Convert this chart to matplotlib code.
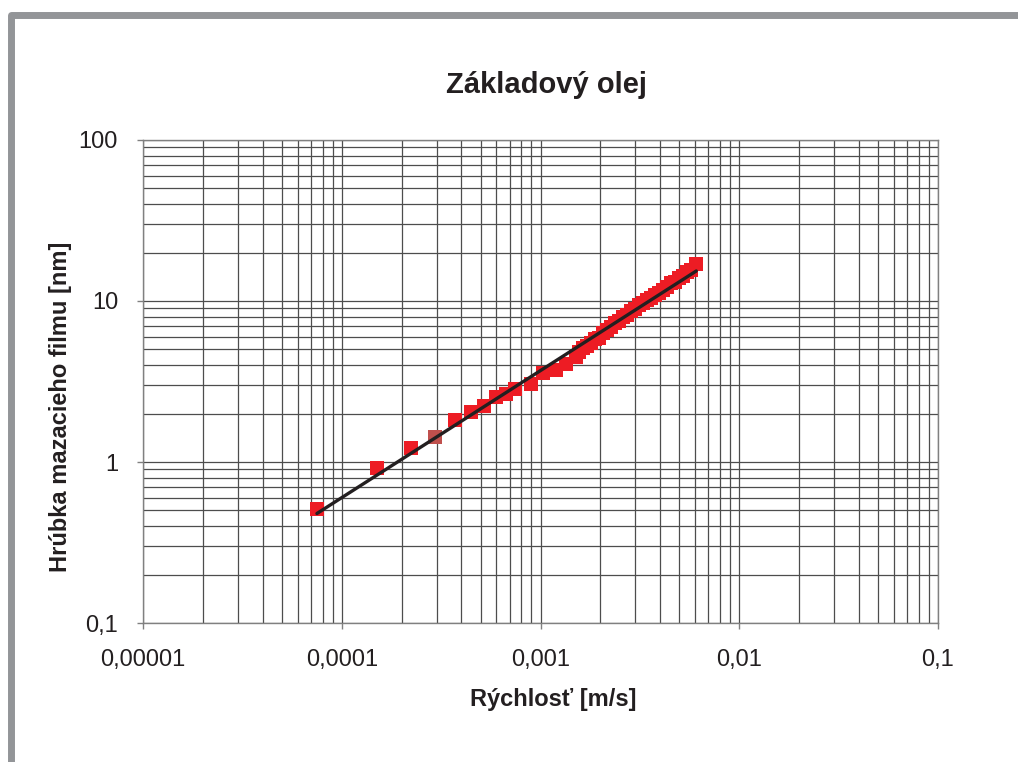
import numpy as np
import matplotlib.pyplot as plt
from matplotlib.patches import Rectangle
from matplotlib.ticker import LogLocator, FixedFormatter, FixedLocator, NullFormatter

plt.rcParams['font.family'] = ['Liberation Sans', 'DejaVu Sans']

# rychlost [m/s] a hrubka filmu [nm]
rychlost = [0.000075, 0.00015, 0.000222, 0.00037, 0.000445, 0.000517, 0.000594,
            0.000667, 0.00074, 0.000891, 0.001035, 0.00119, 0.00134, 0.0015,
            0.00157, 0.001645, 0.001722, 0.001804, 0.00189, 0.001979, 0.002073,
            0.002171, 0.002274, 0.002381, 0.002494, 0.002612, 0.002736, 0.002866,
            0.003001, 0.003143, 0.003292, 0.003448, 0.003612, 0.003783, 0.003962,
            0.00415, 0.004346, 0.004552, 0.004768, 0.004994, 0.005231, 0.005478,
            0.005738, 0.006078]
hrubka = [0.51, 0.92, 1.23, 1.82, 2.03, 2.23, 2.55,
          2.64, 2.84, 3.05, 3.57, 3.75, 4.09, 4.52,
          4.85, 5.11, 5.22, 5.49, 5.78, 5.92, 6.31,
          6.64, 6.90, 7.25, 7.52, 7.92, 8.22, 8.64,
          8.97, 9.45, 9.65, 10.16, 10.39, 10.94, 11.18,
          11.77, 12.22, 12.86, 13.14, 13.84, 14.36, 15.10,
          15.67, 16.88]
# bod v inej farbe
rychlost_2 = [0.000296]
hrubka_2 = [1.42]

x_ticks = [0.00001, 0.0001, 0.001, 0.01, 0.1]
x_labels = ['0,00001', '0,0001', '0,001', '0,01', '0,1']
y_ticks = [0.1, 1, 10, 100]
y_labels = ['0,1', '1', '10', '100']

# mocninova regresia (ako trendline v Exceli)
xv = np.array(rychlost + rychlost_2)
yv = np.array(hrubka + hrubka_2)
b, a = np.polyfit(np.log10(xv), np.log10(yv), 1)
xf = np.array([xv.min(), xv.max()])
yf = 10 ** (a + b * np.log10(xf))

fig = plt.figure(figsize=(10.18, 7.62), dpi=100)
ax = fig.add_axes([0.1405, 0.1824, 0.7809, 0.6339])

ax.set_xscale('log')
ax.set_yscale('log')
ax.set_xlim(0.00001, 0.1)
ax.set_ylim(0.1, 100)

ax.xaxis.set_major_locator(FixedLocator(x_ticks))
ax.xaxis.set_major_formatter(FixedFormatter(x_labels))
ax.yaxis.set_major_locator(FixedLocator(y_ticks))
ax.yaxis.set_major_formatter(FixedFormatter(y_labels))
ax.xaxis.set_minor_locator(LogLocator(base=10, subs=np.arange(2, 10)))
ax.yaxis.set_minor_locator(LogLocator(base=10, subs=np.arange(2, 10)))
ax.xaxis.set_minor_formatter(NullFormatter())
ax.yaxis.set_minor_formatter(NullFormatter())

ax.grid(True, which='both', color='#4d4d4d', linewidth=0.9)
ax.set_axisbelow(True)
ax.tick_params(which='major', direction='out', length=4, width=1, color='#808080',
               labelsize=17, labelcolor='#231f20')
ax.tick_params(axis='x', which='major', pad=15)
ax.tick_params(axis='y', which='major', pad=14)
ax.tick_params(which='minor', length=0)
for s in ax.spines.values():
    s.set_color('#808080')
    s.set_linewidth(1)

ax.plot(rychlost, hrubka, 's', color='#ed1c24', markersize=9.5, markeredgewidth=0, zorder=3)
ax.plot(rychlost_2, hrubka_2, 's', color='#c0504d', markersize=9.5, markeredgewidth=0, zorder=3)
ax.plot(xf, yf, color='#231f20', linewidth=2.4, solid_capstyle='round', zorder=4)

ax.set_xlabel('Rýchlosť [m/s]', fontsize=17, fontweight='bold', color='#231f20')
ax.set_ylabel('Hrúbka mazacieho filmu [nm]', fontsize=17, fontweight='bold', color='#231f20')
ax.xaxis.set_label_coords(0.516, -0.134)
ax.yaxis.set_label_coords(-0.089, 0.447)

fig.text(546 / 1018, 1 - 85 / 762, 'Základový olej', fontsize=21, fontweight='bold',
         ha='center', va='center', color='#231f20')

# sivy ramcek vlavo a hore
fig.add_artist(Rectangle((10.8 / 1018, -0.5), 2.0, 1.5 - 14.5 / 762 , transform=fig.transFigure,
                         fill=False, edgecolor='#939598', linewidth=5, joinstyle='round'))

plt.savefig('out.png', dpi=100)
